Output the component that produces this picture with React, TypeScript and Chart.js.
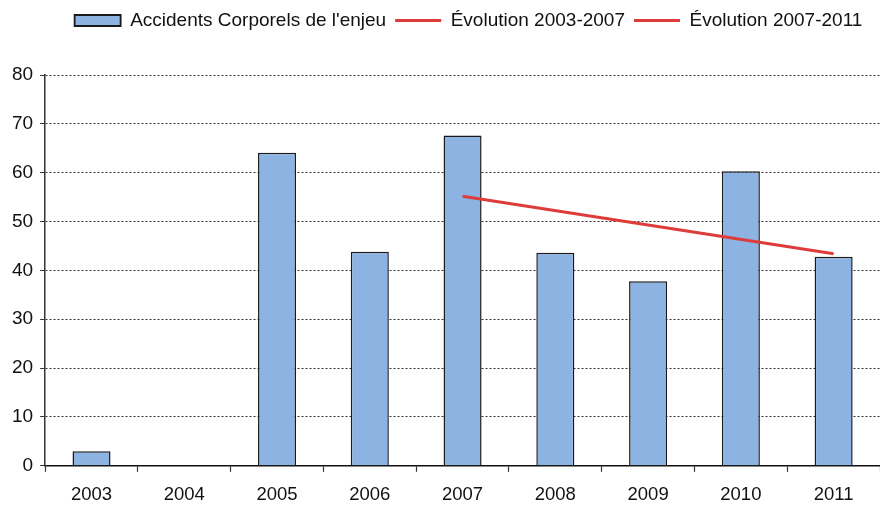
import { useEffect, useRef } from "react";
import { Chart, registerables } from "chart.js";

Chart.register(...registerables);

const categories = ["2003", "2004", "2005", "2006", "2007", "2008", "2009", "2010", "2011"];
const accidents = [3, null, 64.1, 43.8, 67.6, 43.6, 37.8, 60.3, 42.8];
const evolution0307 = [null, null, null, null, null, null, null, null, null];
const evolution0711 = [null, null, null, null, 55.2, null, null, null, 43.4];
const seriesLabels = ["Accidents Corporels de l'enjeu", "Évolution 2003-2007", "Évolution 2007-2011"];

const FONT = "'Liberation Sans', Arial, sans-serif";
const BAR_FILL = "#8DB3E2";
const RED = "#DE3B3B";

const legendTweak = {
  id: "legendTweak",
  beforeLayout(chart: any) {
    const lg = chart.legend;
    if (lg && !lg.__patched) {
      const orig = lg.fit.bind(lg);
      lg.fit = function () {
        orig();
        this.height += 35;
      };
      lg.__patched = true;
    }
  },
  afterLayout(chart: any) {
    if (chart.legend) chart.legend.left += 48;
  },
};

export default function App() {
  const ref = useRef<HTMLCanvasElement | null>(null);
  useEffect(() => {
    if (!ref.current) return;
    const chart = new Chart(ref.current, {
      type: "bar",
      data: {
        labels: categories,
        datasets: [
          {
            type: "bar",
            label: seriesLabels[0],
            data: accidents,
            backgroundColor: BAR_FILL,
            borderColor: "#1a1a1a",
            borderWidth: 1.5,
            barPercentage: 0.41,
            categoryPercentage: 1,
            order: 2,
          },
          {
            type: "line",
            label: seriesLabels[1],
            data: evolution0307,
            borderColor: RED,
            backgroundColor: RED,
            borderWidth: 3,
            pointRadius: 0,
            spanGaps: true,
            order: 1,
          },
          {
            type: "line",
            label: seriesLabels[2],
            data: evolution0711,
            borderColor: RED,
            backgroundColor: RED,
            borderWidth: 3,
            pointRadius: 0,
            spanGaps: true,
            order: 1,
          },
        ] as any,
      },
      options: {
        animation: false,
        responsive: false,
        maintainAspectRatio: false,
        layout: { padding: { left: 5, right: -4, top: 2, bottom: -12 } },
        plugins: {
          tooltip: { enabled: false },
          legend: {
            display: true,
            position: "top",
            align: "center",
            labels: {
              font: { family: FONT, size: 19 },
              color: "#111",
              usePointStyle: true,
              pointStyleWidth: 46,
              boxHeight: 11,
              padding: 9,
              sort: (a: any, b: any) => a.datasetIndex - b.datasetIndex,
              generateLabels: (chart: any) => {
                const items = Chart.defaults.plugins.legend.labels.generateLabels(chart);
                return items.map((it: any) => {
                  if (it.datasetIndex === 0) {
                    return { ...it, pointStyle: "rect", fillStyle: BAR_FILL, strokeStyle: "#1a1a1a", lineWidth: 1.8 };
                  }
                  return { ...it, pointStyle: "line", strokeStyle: RED, fillStyle: RED, lineWidth: 3 };
                });
              },
            },
          },
        },
        scales: {
          x: {
            offset: true,
            grid: {
              display: true,
              drawOnChartArea: false,
              drawTicks: true,
              tickLength: 6,
              tickColor: "#333",
              tickWidth: 1.2,
              offset: true,
            },
            border: { display: true, color: "#111", width: 1.5 },
            ticks: { font: { family: FONT, size: 18.5 }, color: "#111", padding: 12 },
          },
          y: {
            min: 0,
            max: 80,
            ticks: { stepSize: 10, font: { family: FONT, size: 19 }, color: "#111", padding: 7 },
            grid: {
              color: "#333",
              lineWidth: 1,
              tickLength: 5,
              tickColor: "#333",
              tickBorderDash: [],
            },
            border: { display: true, color: "#333", width: 1.5, dash: [2, 2] },
          },
        },
      },
      plugins: [legendTweak],
    });
    return () => chart.destroy();
  }, []);
  return (
    <div style={{ position: "fixed", left: 0, top: 0, width: 880, height: 506, background: "#fff" }}>
      <canvas ref={ref} width={880} height={506} style={{ width: 880, height: 506 }} />
    </div>
  );
}
